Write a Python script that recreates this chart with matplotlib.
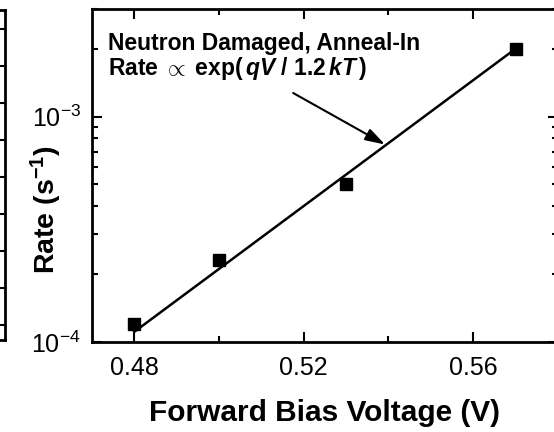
import matplotlib
matplotlib.use("Agg")
from matplotlib import pyplot as plt
from matplotlib.ticker import MultipleLocator, LogLocator, NullFormatter

# 数据：正向偏压与速率
bias_v = [0.48, 0.50, 0.53, 0.57]
rate = [1.2e-4, 2.3e-4, 5.0e-4, 2.0e-3]

# 拟合直线端点 Rate ∝ exp(qV/1.2kT)
fit_v = [0.48, 0.57]
fit_rate = [1.11e-4, 2.0e-3]

x_ticks = [0.48, 0.52, 0.56]
x_tick_labels = ["0.48", "0.52", "0.56"]

plt.rcParams["font.family"] = "Liberation Sans"
plt.rcParams["mathtext.fontset"] = "custom"
plt.rcParams["mathtext.rm"] = "Liberation Sans:bold"
plt.rcParams["mathtext.bf"] = "Liberation Sans:bold"
plt.rcParams["mathtext.it"] = "Liberation Sans:bold:italic"

fig = plt.figure(figsize=(5.54, 4.32), dpi=100)

# 左侧被裁掉的相邻子图（只露出右边框）
ax_left = fig.add_axes([-0.5, 0.213, 0.509, 0.764])
ax_left.set_ylim(-15, 315)
ax_left.yaxis.set_major_locator(MultipleLocator(37))
ax_left.tick_params(axis="y", which="both", direction="in", left=False, right=True,
                    labelleft=False, length=7, width=1.5)
ax_left.set_xticks([])
for s in ax_left.spines.values():
    s.set_linewidth(2)

# 主图
ax = fig.add_axes([0.166, 0.2083, 0.841, 0.7707])
ax.plot(fit_v, fit_rate, color="black", lw=1.8)
ax.plot(bias_v, rate, "s", color="black", markersize=8)

ax.set_yscale("log")
ax.set_xlim(0.47, 0.58)
ax.set_ylim(1e-4, 3e-3)

ax.set_xticks(x_ticks)
ax.set_xticklabels(x_tick_labels)
ax.xaxis.set_minor_locator(MultipleLocator(0.02))
ax.yaxis.set_major_locator(LogLocator(base=10))
ax.yaxis.set_minor_locator(LogLocator(base=10, subs=range(2, 10)))
ax.yaxis.set_minor_formatter(NullFormatter())

ax.tick_params(which="both", direction="in", top=True, right=True, labelsize=18, width=1.5)
ax.tick_params(which="major", length=7.5)
ax.tick_params(which="minor", length=4)
ax.tick_params(axis="x", pad=10)
ax.tick_params(axis="y", pad=8)
for s in ax.spines.values():
    s.set_linewidth(2)

ax.set_xlabel("Forward Bias Voltage (V)", fontsize=21.5, fontweight="bold", labelpad=14)
fig.text(0.083, 0.514, r"Rate (s$^{-1}$)", rotation=90, ha="center", va="center",
         fontsize=20.5, fontweight="bold")

ax.text(0.034, 0.877, "Neutron Damaged, Anneal-In", transform=ax.transAxes,
        fontsize=16.5, fontweight="bold", va="baseline")
ax.text(0.034, 0.802, r"Rate$\;\propto\;$exp($\,qV$ / 1.2$\,kT\,$)", transform=ax.transAxes,
        fontsize=16.5, fontweight="bold", va="baseline")

ax.annotate("", xy=(0.5392, 7.52e-4), xytext=(0.5175, 1.273e-3),
            arrowprops=dict(arrowstyle="-|>,head_length=0.8,head_width=0.25",
                            color="black", lw=1.5, mutation_scale=15,
                            shrinkA=0, shrinkB=0))

plt.savefig("out.png", dpi=100)
